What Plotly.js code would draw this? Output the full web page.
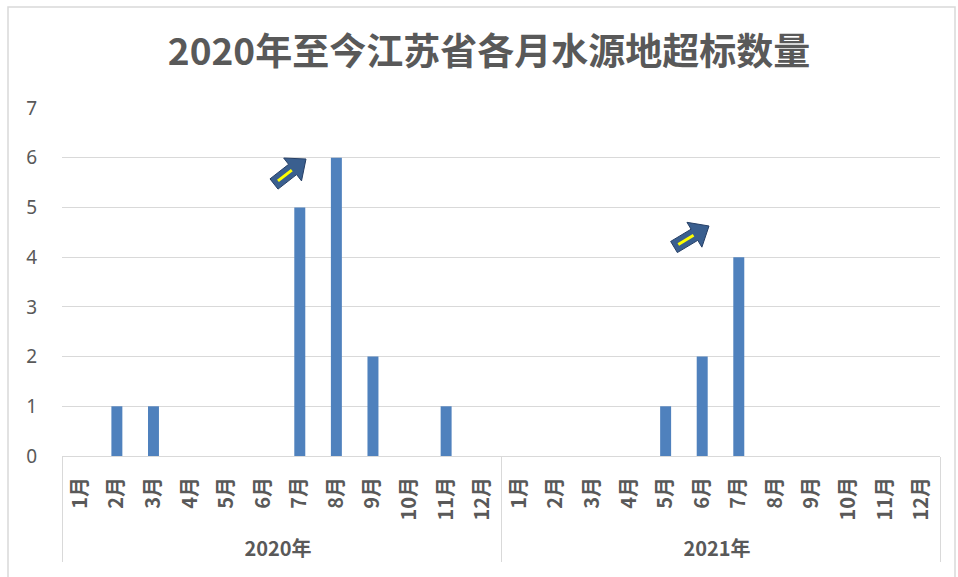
<!DOCTYPE html>
<html><head><meta charset="utf-8">
<script src="https://cdn.plot.ly/plotly-3.0.1.min.js"></script>
<style>body{margin:0;padding:0;background:#fff}#chart{width:958px;height:577px}</style>
</head><body><div id="chart"></div>
<script>
const years = ["2020年", "2021年"];
const months = ["1月","2月","3月","4月","5月","6月","7月","8月","9月","10月","11月","12月"];
const values2020 = [0,1,1,0,0,0,5,6,2,0,1,0];
const values2021 = [0,0,0,0,1,2,4,0,0,0,0,0];
const yTicks = [0,1,2,3,4,5,6,7];

const xYear = [], xMonth = [], yVals = [];
years.forEach((yr, i) => {
  const vals = i === 0 ? values2020 : values2021;
  months.forEach((m, j) => { xYear.push(yr); xMonth.push(m); yVals.push(vals[j]); });
});

const W = 958, H = 577, ML = 62, MR = 18, MT = 108, MB = 121;
const PW = W - ML - MR, PH = H - MT - MB;
const px = x => (x - ML) / PW;
const py = y => (H - MB - y) / PH;

function arrowPath(tx, ty, hx, hy, sw, hw, hl) {
  const dx = hx - tx, dy = hy - ty, L = Math.hypot(dx, dy);
  const ux = dx / L, uy = dy / L, nx = -uy, ny = ux;
  const bx = hx - ux * hl, by = hy - uy * hl;
  const pts = [
    [tx + nx * sw / 2, ty + ny * sw / 2],
    [bx + nx * sw / 2, by + ny * sw / 2],
    [bx + nx * hw / 2, by + ny * hw / 2],
    [hx, hy],
    [bx - nx * hw / 2, by - ny * hw / 2],
    [bx - nx * sw / 2, by - ny * sw / 2],
    [tx - nx * sw / 2, ty - ny * sw / 2]
  ];
  return 'M' + pts.map(p => px(p[0]).toFixed(5) + ',' + py(p[1]).toFixed(5)).join(' L') + ' Z';
}
function arrowShapes(tx, ty, hx, hy) {
  const dx = hx - tx, dy = hy - ty, L = Math.hypot(dx, dy);
  const ux = dx / L, uy = dy / L;
  return [
    {type:'path', xref:'paper', yref:'paper', path: arrowPath(tx, ty, hx, hy, 13, 29, 17),
     fillcolor:'#3a5f8f', line:{color:'#263f66', width:1}, layer:'above'},
    {type:'line', xref:'paper', yref:'paper',
     x0: px(tx + ux * 5), y0: py(ty + uy * 5), x1: px(hx - ux * 18), y1: py(hy - uy * 18),
     line:{color:'#ffff00', width:3}, layer:'above'}
  ];
}

const shapes = [
  {type:'rect', xref:'paper', yref:'paper', x0: px(8), x1: px(955), y0: py(590), y1: py(7),
   line:{color:'#d9d9d9', width:1.5}, fillcolor:'rgba(0,0,0,0)', layer:'below'},
  ...arrowShapes(274, 184, 306, 159),
  ...arrowShapes(674, 247, 709, 226)
];

const trace = {
  type: 'bar',
  x: [xYear, xMonth],
  y: yVals,
  marker: {color: '#4f81bd'},
  hoverinfo: 'y'
};

const layout = {
  width: W, height: H,
  margin: {l: ML, r: MR, t: MT, b: MB},
  paper_bgcolor: '#ffffff', plot_bgcolor: '#ffffff',
  font: {family: '"Noto Sans CJK SC", "Noto Sans", sans-serif', color: '#595959'},
  title: {text: '<b>2020年至今江苏省各月水源地超标数量</b>', x: 489 / W, xanchor: 'center', y: 1 - 52 / H, yanchor: 'middle',
          font: {size: 37, color: '#595959', family: '"Noto Sans CJK SC", sans-serif'}},
  bargap: 0.7,
  showlegend: false,
  xaxis: {
    type: 'multicategory',
    tickangle: -90,
    ticklabelstandoff: 12,
    tickprefix: '\u00a0\u00a0',
    tickfont: {size: 20, color: '#595959', weight: 'bold', family: '"Noto Sans CJK SC", sans-serif'},
    showline: true, linecolor: '#d9d9d9', linewidth: 1,
    showdividers: true, dividercolor: '#d9d9d9', dividerwidth: 1,
    ticks: '', showgrid: false
  },
  yaxis: {
    range: [0, 7], tickvals: yTicks, ticktext: yTicks.map(String),
    showgrid: true, gridcolor: '#d9d9d9', gridwidth: 1,
    zeroline: false, showline: false, ticks: '',
    ticklabelstandoff: 24,
    tickfont: {size: 19, color: '#595959', family: '"Noto Sans", sans-serif'}
  },
  shapes: shapes
};

Plotly.newPlot('chart', [trace], layout, {displayModeBar: false, staticPlot: true});
</script></body></html>
